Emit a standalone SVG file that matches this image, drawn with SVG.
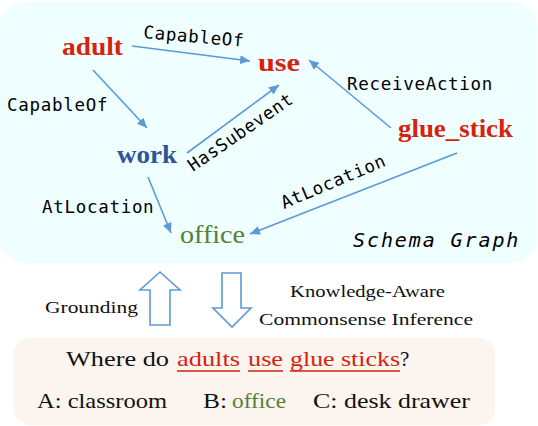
<svg xmlns="http://www.w3.org/2000/svg" width="538" height="426" viewBox="0 0 538 426">
<style>
.node{font-family:"Liberation Serif","DejaVu Serif",serif;font-size:25px;font-weight:bold}
.red{fill:#d5230e}
.lbl{font-family:"DejaVu Sans Mono","Liberation Mono",monospace;font-size:17.5px;letter-spacing:0.7px;fill:#000}
.txt{font-family:"Liberation Serif","DejaVu Serif",serif;fill:#111}
.edge{stroke:#5b9bd5;stroke-width:1.6;fill:none;marker-end:url(#ah)}
.hollow{fill:#fff;stroke:#5b9bd5;stroke-width:1.6}
</style>
<defs>
<marker id="ah" markerUnits="userSpaceOnUse" markerWidth="11" markerHeight="9" refX="10" refY="4.5" orient="auto">
<path d="M0,0 L10,4.5 L0,9 z" fill="#5b9bd5"/>
</marker>
</defs>
<rect id="schema-box" x="0" y="2" width="537" height="261" rx="25" fill="#effefe"/>
<rect id="question-box" x="14" y="338" width="481" height="87" rx="16" fill="#fcf4ef"/>

<g id="connectors">
<line class="edge" x1="132" y1="46" x2="250" y2="61"/>
<line class="edge" x1="93" y1="70" x2="147" y2="128"/>
<line class="edge" x1="187" y1="153" x2="279" y2="85"/>
<line class="edge" x1="391" y1="128" x2="309" y2="60"/>
<line class="edge" x1="148" y1="177" x2="171" y2="233"/>
<line class="edge" x1="457" y1="153" x2="250" y2="234"/>
<text class="lbl" x="143" y="38" transform="rotate(5 143 38)">CapableOf</text>
<text class="lbl" x="7" y="111">CapableOf</text>
<text class="lbl" x="347" y="90">ReceiveAction</text>
<text class="lbl" x="42" y="213">AtLocation</text>
<text class="lbl" x="193" y="172" transform="rotate(-34.5 193 172)">HasSubevent</text>
<text class="lbl" x="284" y="209" transform="rotate(-23 284 209)">AtLocation</text>
</g>

<g id="adult"><text class="node red" x="62" y="55" textLength="61" lengthAdjust="spacingAndGlyphs">adult</text></g>
<g id="use"><text class="node red" x="258" y="71" textLength="42" lengthAdjust="spacingAndGlyphs">use</text></g>
<g id="glue_stick"><text class="node red" x="398" y="137" textLength="115" lengthAdjust="spacingAndGlyphs">glue_stick</text></g>
<g id="work"><text class="node" fill="#2f5597" x="117" y="163" textLength="60" lengthAdjust="spacingAndGlyphs">work</text></g>
<g id="office"><text class="node" style="font-weight:normal" fill="#538135" x="180" y="243" textLength="65" lengthAdjust="spacingAndGlyphs">office</text></g>

<text id="schema-title" x="353" y="247" style="font-family:'DejaVu Sans Mono','Liberation Mono',monospace;font-size:20px;font-style:italic;letter-spacing:1.9px" fill="#000">Schema Graph</text>

<g id="grounding-arrow">
<path class="hollow" d="M150,325 L150,290 L140,290 L160,272 L180,290 L170,290 L170,325 Z"/>
<text class="txt" x="45" y="313" font-size="17" textLength="93" lengthAdjust="spacingAndGlyphs">Grounding</text>
</g>
<g id="inference-arrow">
<path class="hollow" d="M222,273 L241,273 L241,308 L251,308 L232,327 L213,308 L222,308 Z"/>
<text class="txt" x="290" y="297" font-size="17" textLength="155" lengthAdjust="spacingAndGlyphs">Knowledge-Aware</text>
<text class="txt" x="259" y="325" font-size="17" textLength="214" lengthAdjust="spacingAndGlyphs">Commonsense Inference</text>
</g>

<g id="question" font-size="21">
<text class="txt" x="66" y="366" font-size="21" textLength="103" lengthAdjust="spacingAndGlyphs">Where do</text>
<g fill="#d5230e" stroke="#d5230e">
<text x="177" y="366" class="txt" style="fill:#d5230e;stroke:none" font-size="21" textLength="63" lengthAdjust="spacingAndGlyphs">adults</text>
<text x="248" y="366" class="txt" style="fill:#d5230e;stroke:none" font-size="21" textLength="35" lengthAdjust="spacingAndGlyphs">use</text>
<text x="290" y="366" class="txt" style="fill:#d5230e;stroke:none" font-size="21" textLength="110" lengthAdjust="spacingAndGlyphs">glue sticks</text>
<line x1="177" y1="371" x2="240" y2="371" stroke-width="1.3"/>
<line x1="248" y1="371" x2="283" y2="371" stroke-width="1.3"/>
<line x1="290" y1="371" x2="400" y2="371" stroke-width="1.3"/>
</g>
<text class="txt" x="400" y="366" font-size="21">?</text>
<text class="txt" x="37" y="408" font-size="21" textLength="130" lengthAdjust="spacingAndGlyphs">A: classroom</text>
<text class="txt" x="203" y="408" font-size="21" textLength="24" lengthAdjust="spacingAndGlyphs">B:</text>
<text class="txt" x="232" y="408" font-size="21" style="fill:#538135" textLength="54" lengthAdjust="spacingAndGlyphs">office</text>
<text class="txt" x="313" y="408" font-size="21" textLength="157" lengthAdjust="spacingAndGlyphs">C: desk drawer</text>
</g>
</svg>
